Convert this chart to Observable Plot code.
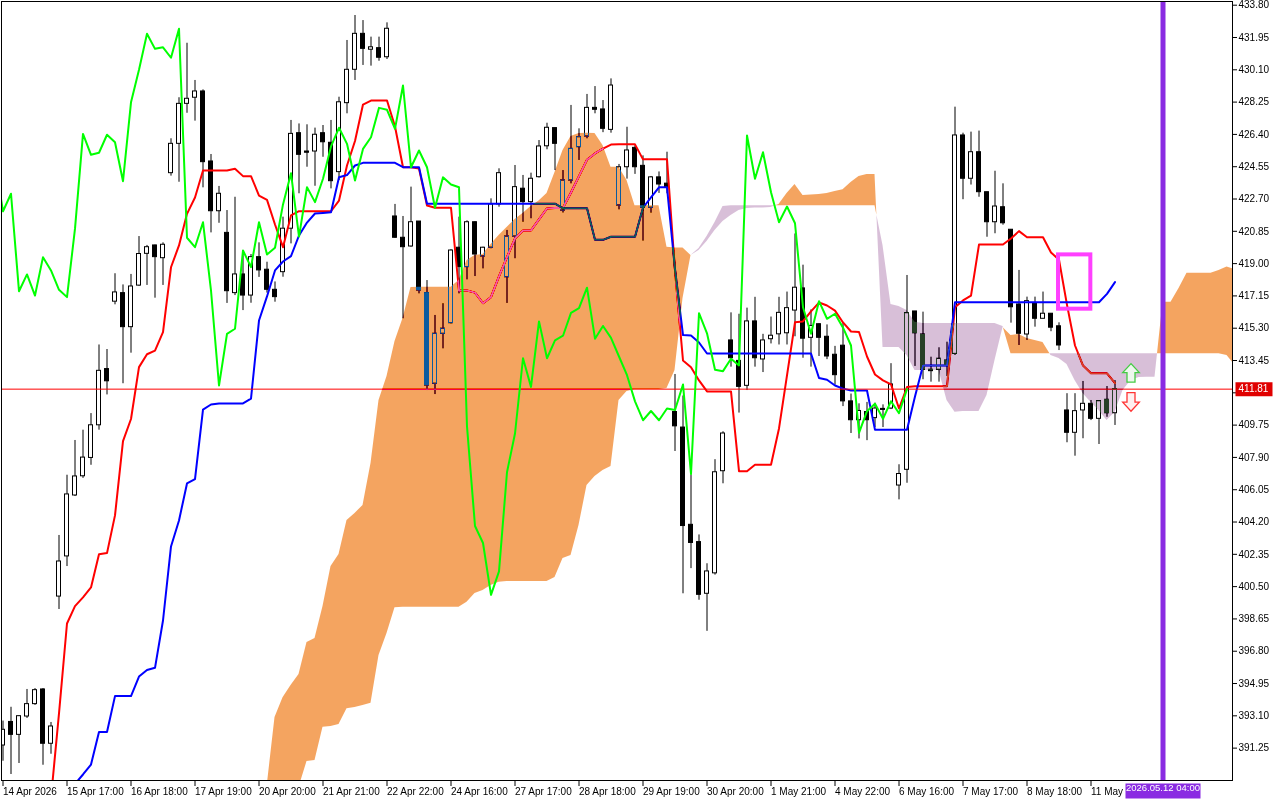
<!DOCTYPE html>
<html><head><meta charset="utf-8">
<script src="https://cdn.jsdelivr.net/npm/d3@7"></script>
<script src="https://cdn.jsdelivr.net/npm/@observablehq/plot@0.6"></script>
<style>html,body{margin:0;padding:0;background:#fff;}#chart{width:1280px;height:800px;}</style>
</head><body><div id="chart"></div>
<script>
// ---- Candles (bar index 0..139) ----
const opens = [
391.40,392.75,392.01,393.06,393.77,394.61,391.50,399.93,402.23,405.72,
406.82,407.87,409.74,412.96,416.82,417.31,415.36,417.74,419.56,420.04,
419.31,424.18,425.86,428.15,428.50,428.86,424.85,422.00,420.76,417.31,
418.38,417.17,419.37,418.65,417.50,418.51,421.00,426.47,425.42,425.42,
426.47,425.92,424.24,428.19,430.10,432.16,431.25,431.34,430.82,421.70,
420.48,419.98,421.41,417.31,412.12,414.98,415.59,419.91,418.80,421.37,
419.41,419.91,422.39,418.22,420.55,423.29,422.52,423.95,425.72,426.76,
422.04,423.76,425.67,426.28,427.92,427.83,426.66,422.33,424.52,425.63,
424.60,422.20,423.94,423.58,410.50,409.61,404.04,403.05,400.09,401.26,
407.11,414.60,413.43,412.00,415.69,413.51,414.67,414.95,415.01,416.31,
417.58,414.75,415.53,414.81,413.78,414.30,411.11,410.03,410.50,410.15,
410.64,410.70,406.29,407.19,416.26,414.94,412.92,412.92,413.45,413.83,
426.34,423.86,425.38,423.09,421.37,422.23,420.94,416.66,414.94,416.74,
415.84,416.13,415.41,410.59,409.31,410.59,410.97,410.11,411.20,410.43];
const highs = [
392.80,393.59,393.10,394.61,394.66,394.66,392.72,403.43,406.88,408.87,
409.46,410.41,414.34,414.08,418.42,417.78,418.38,420.55,420.04,420.06,
420.19,426.15,428.50,431.62,429.49,428.95,425.25,423.42,422.04,422.80,
419.46,419.52,420.19,419.08,417.95,421.66,427.20,427.00,426.95,426.76,
426.91,427.20,428.53,431.78,433.21,432.92,431.97,431.97,432.79,422.39,
421.70,423.38,421.41,418.03,416.03,416.70,419.80,421.66,421.45,421.40,
419.94,422.71,424.43,420.90,424.62,424.05,424.18,426.05,427.04,426.76,
424.33,428.06,426.72,428.69,429.14,428.34,429.58,424.68,426.81,425.75,
425.17,423.99,424.25,425.38,412.65,411.42,406.90,403.46,401.81,407.77,
409.37,416.18,416.10,416.45,417.07,414.95,415.94,417.07,417.37,420.70,
418.91,416.35,415.55,415.49,414.26,415.57,411.53,410.97,411.05,411.01,
410.91,413.27,407.48,418.32,416.26,416.22,413.64,414.18,414.50,427.96,
426.47,426.53,426.59,423.09,424.29,423.57,420.94,418.61,417.08,417.08,
417.37,416.13,415.61,411.55,411.55,412.25,411.16,411.12,411.96,412.30];
const lows = [
390.50,389.74,390.37,392.95,393.70,390.27,390.90,399.19,401.65,405.66,
406.70,407.45,409.46,411.48,416.64,412.12,413.87,417.70,417.75,417.02,
417.75,424.01,423.66,427.61,427.16,423.34,420.76,421.31,416.72,417.17,
416.31,416.73,418.21,417.31,416.79,418.22,420.13,423.00,424.52,423.43,
425.09,423.28,423.76,427.58,429.49,430.35,430.31,430.59,430.69,420.45,
415.84,419.94,417.27,411.73,411.50,414.12,415.55,417.27,418.07,418.26,
418.70,419.85,422.23,416.72,419.28,421.37,421.57,423.90,425.52,424.33,
421.90,423.57,424.91,426.15,427.58,426.50,426.47,422.08,423.84,424.11,
420.29,421.89,423.02,423.00,408.24,400.09,401.53,399.72,397.94,401.16,
406.39,413.07,410.44,411.73,413.07,412.76,414.40,414.34,414.34,414.81,
413.58,413.07,413.68,413.50,412.04,410.81,409.27,408.96,408.86,409.61,
409.61,410.64,405.47,406.42,413.11,412.35,412.21,412.21,412.53,413.74,
422.66,423.50,422.80,420.51,420.71,421.20,415.59,414.31,414.60,415.36,
415.84,415.10,414.02,408.74,407.97,408.97,410.01,408.64,410.20,409.73];
const closes = [
392.30,392.01,393.08,393.77,394.57,391.50,392.49,401.94,405.78,406.81,
407.89,409.74,412.86,412.26,417.35,415.36,417.69,419.55,419.94,419.37,
420.08,425.86,428.15,428.44,428.86,424.81,422.00,423.00,417.42,418.38,
417.17,419.37,418.61,417.50,417.08,421.00,426.43,425.23,425.35,426.38,
425.95,423.72,428.24,430.10,432.16,431.30,431.39,430.79,432.45,420.48,
419.94,421.37,417.46,412.02,414.98,415.27,419.75,418.80,421.37,419.52,
419.91,422.39,424.18,420.55,423.38,422.52,423.86,425.71,426.78,425.86,
423.76,425.57,426.24,427.92,427.81,426.72,429.20,424.52,425.48,424.52,
422.20,423.94,423.53,423.37,409.68,403.97,403.00,400.03,401.37,407.05,
409.27,413.58,411.94,415.69,413.58,414.60,414.87,416.18,416.45,417.62,
414.70,415.43,414.75,413.68,412.61,411.11,410.03,410.56,410.03,410.70,
410.62,412.08,406.95,416.16,415.01,412.92,412.84,413.55,413.17,426.34,
423.86,425.38,423.09,421.37,422.27,421.31,416.50,414.98,416.85,415.84,
416.13,415.33,414.31,409.31,410.55,410.97,410.11,411.12,410.43,411.81];

// ---- Ichimoku lines ----
const tenkanStart = 6;
const tenkan = [
388.40,393.24,398.39,399.38,399.88,400.45,402.36,402.42,404.58,408.83,
410.10,413.07,413.81,414.02,415.08,418.79,420.04,421.85,422.79,424.33,
424.33,424.33,424.33,424.43,424.01,424.01,422.90,422.65,421.24,419.94,
421.76,422.00,422.00,422.00,422.00,422.00,422.61,424.62,426.02,428.11,
428.34,428.34,428.34,426.85,424.52,424.52,424.45,422.33,422.20,422.20,
422.20,417.46,417.46,417.34,416.73,417.08,418.27,419.37,420.44,420.90,
420.90,421.53,422.16,422.19,422.19,423.07,424.01,424.95,425.31,425.59,
425.82,425.83,425.83,425.83,424.97,424.97,424.97,424.97,418.61,413.45,
413.07,412.31,411.68,411.68,411.68,411.68,407.11,407.11,407.48,407.48,
407.48,409.56,412.60,415.64,415.69,416.26,416.77,416.60,416.31,415.63,
415.11,415.08,413.68,412.65,412.31,412.08,410.70,411.93,411.98,411.98,
411.98,411.98,411.98,416.50,416.89,417.17,420.09,420.09,420.09,420.09,
420.44,420.86,420.51,420.51,420.51,419.64,419.22,416.64,414.31,413.16,
412.72,412.72,412.72,412.15];
const kijunStart = 9;
const kijun = [
389.20,389.74,390.31,392.17,392.17,394.23,394.23,394.23,395.35,395.72,
395.85,398.56,402.80,404.29,406.41,406.66,410.64,410.93,410.99,410.99,
410.99,410.99,411.27,415.74,417.12,418.61,419.12,419.43,420.61,421.35,
421.87,421.90,421.94,423.95,424.07,424.62,424.77,424.77,424.77,424.77,
424.77,424.52,424.52,424.52,422.43,422.43,422.43,422.43,422.43,422.43,
422.43,422.43,422.43,422.43,422.43,422.43,422.43,422.43,422.43,422.43,
422.43,422.17,422.17,422.17,422.17,420.36,420.36,420.54,420.54,420.54,
420.54,422.20,422.79,423.37,423.37,418.68,414.91,414.88,414.48,413.85,
413.85,413.85,413.85,413.85,413.85,413.85,413.85,413.85,413.85,413.85,
413.85,413.85,413.85,412.45,412.35,412.02,411.84,411.73,411.73,411.73,
409.48,409.48,409.48,409.48,409.48,411.39,413.16,413.16,413.16,413.16,
416.79,416.79,416.79,416.79,416.79,416.79,416.79,416.79,416.79,416.79,
416.79,416.79,416.79,416.79,416.79,416.79,416.79,416.79,416.79,417.27,
417.94];
const chikouShift = 26;
const spanStart = 33;
const spanA = [
389.00,393.00,394.14,394.83,395.47,397.30,397.53,399.36,401.65,402.34,
404.29,404.69,405.15,407.55,411.16,412.53,414.54,415.86,417.63,417.65,
417.65,417.65,417.65,417.65,418.03,419.18,419.47,419.52,420.09,420.61,
421.07,421.53,421.87,422.27,422.59,423.02,424.22,425.48,426.28,426.45,
426.47,426.45,425.76,424.52,424.52,423.76,422.31,422.31,422.31,422.31,
419.94,419.89,419.89,419.47,419.75,420.27,420.90,421.41,421.76,422.04,
422.16,422.19,422.19,422.21,422.39,423.02,423.53,422.90,422.93,422.96,
423.02,423.13,423.23,423.65,423.99,424.11,424.11,414.20,414.20,414.20,
413.74,412.88,412.88,412.88,412.88,411.16,410.49,410.53,410.53,410.53,
411.45,413.45,415.34,414.88,414.94,414.71,414.60,414.48,413.74,413.57,
413.22,412.30,411.56,411.04,410.59,410.01,410.47,411.73,412.30,412.48,
412.49,412.49,416.79,416.79,417.58,418.45,418.45,418.45,418.45,418.61,
418.80,418.66];
const spanB = [
385.00,386.00,387.00,388.00,389.00,390.48,390.54,392.45,392.49,392.60,
393.50,393.58,393.69,393.82,396.55,397.81,399.29,399.32,399.32,399.32,
399.32,399.32,399.32,399.32,399.32,399.61,400.11,400.28,400.57,400.75,
400.79,400.79,400.79,400.79,400.79,400.79,401.02,402.11,402.28,404.00,
406.29,406.81,407.15,407.38,411.16,411.68,411.79,411.79,411.79,411.79,
411.85,412.88,417.00,419.47,419.87,420.55,421.36,422.27,422.31,422.31,
422.31,422.31,422.31,422.31,422.31,422.31,422.31,422.31,422.31,422.31,
422.31,422.31,422.31,422.31,422.31,422.31,422.31,420.04,416.66,416.54,
416.31,415.64,415.57,415.57,415.57,415.57,415.57,415.57,415.57,415.57,
415.57,415.57,415.40,413.84,413.84,413.84,413.84,413.84,413.84,413.84,
413.84,413.84,413.84,413.84,413.84,413.84,413.84,413.84,413.84,413.84,
413.84,413.84,413.84,413.84,413.84,413.84,413.84,413.84,413.84,413.84,
413.74,413.17];

// ---- Annotations ----
const lastPrice = 411.81;
const cursorBar = 145;
const cursorLabel = "2026.05.12 04:00";
const focusBox = [{x1: 131.94, x2: 135.98, y1: 416.39, y2: 419.50}];
const signalBar = 141;
const signalUp = 412.73;
const signalDown = 411.09;

// ---- Axes ----
const yTicks = [391.25,393.10,394.95,396.80,398.65,400.50,402.35,404.20,406.05,407.90,409.75,411.60,413.45,415.30,417.15,419.00,420.85,422.70,424.55,426.40,428.25,430.10,431.95,433.80];
const xTickBars = [0,8,16,24,32,40,48,56,64,72,80,88,96,104,112,120,128,136];
const xTickLabels = ["14 Apr 2026","15 Apr 17:00","16 Apr 18:00","17 Apr 19:00","20 Apr 20:00","21 Apr 21:00","22 Apr 22:00","24 Apr 16:00","27 Apr 17:00","28 Apr 18:00","29 Apr 19:00","30 Apr 20:00","1 May 21:00","4 May 22:00","6 May 16:00","7 May 17:00","8 May 18:00","11 May"];

// ---- build tables ----
const candles = opens.map((o, i) => ({i, o, h: highs[i], l: lows[i], c: closes[i]}));
const bull = candles.filter(d => d.c >= d.o);
const bear = candles.filter(d => d.c < d.o);
const tenkanData = tenkan.map((v, k) => ({i: k + tenkanStart, v}));
const kijunData = kijun.map((v, k) => ({i: k + kijunStart, v}));
const chikouData = closes.map((v, k) => ({i: k - chikouShift, v})).filter(d => d.i >= -1);
const labelMap = new Map(xTickBars.map((b, k) => [b, xTickLabels[k]]));

function cloud(sign) {
  const out = []; let cur = null; let seg = 0;
  for (let k = 0; k < spanA.length; k++) {
    const i = k + spanStart, a = spanA[k], b = spanB[k];
    const d = (a - b) * sign;
    if (k > 0) {
      const pa = spanA[k-1], pb = spanB[k-1], pd = (pa - pb) * sign;
      if ((pd > 0) !== (d > 0)) {
        const t = pd / (pd - d);
        const pt = {i: i - 1 + t, lo: pa + (a - pa) * t, hi: pa + (a - pa) * t};
        if (cur) { pt.seg = seg; cur.push(pt); out.push(...cur); cur = null; seg++; }
        else { pt.seg = seg; cur = [pt]; }
      }
    }
    if (d > 0) {
      if (!cur) cur = [];
      cur.push({i, lo: sign > 0 ? b : a, hi: sign > 0 ? a : b, seg});
    }
  }
  if (cur) out.push(...cur);
  return out;
}
const bullCloud = cloud(1);
const bearCloud = cloud(-1);

const shape = pts => ({draw(ctx) { ctx.moveTo(pts[0][0], pts[0][1]); for (const p of pts.slice(1)) ctx.lineTo(p[0], p[1]); ctx.closePath(); }});
const arrowUp = shape([[0,-9.5],[8.3,-0.5],[4,-0.5],[4,9],[-4,9],[-4,-0.5],[-8.3,-0.5]]);
const arrowDown = shape([[0,9.5],[8.3,0.5],[4,0.5],[4,-9],[-4,-9],[-4,0.5],[-8.3,0.5]]);
const priceBox = shape([[3,-7],[40,-7],[40,7],[3,7]]);
const dateBox = shape([[-37.5,3],[37.5,3],[37.5,18],[-37.5,18]]);

const plot = Plot.plot({
  width: 1280, height: 800,
  marginLeft: 1, marginTop: 1, marginRight: 48, marginBottom: 20,
  x: {domain: [-0.1875, 153.6875], label: null},
  y: {domain: [389.396, 434.012], label: null},
  style: {fontFamily: "'Liberation Sans', Arial, sans-serif", fontSize: "10px", color: "black", background: "white", overflow: "visible"},
  marks: [
    Plot.frame({fill: "white"}),
    Plot.ruleX(candles, {x: "i", y1: "l", y2: "h", stroke: "black", strokeWidth: 1, clip: true}),
    Plot.rect(bull, {x1: d => d.i - 0.25, x2: d => d.i + 0.25, y1: d => d.o, y2: d => Math.max(d.c, d.o + 0.06), fill: "white", stroke: "black", strokeWidth: 1, inset: 0, clip: true}),
    Plot.rect(bear, {x1: d => d.i - 0.25, x2: d => d.i + 0.25, y1: d => d.c, y2: d => Math.max(d.o, d.c + 0.06), fill: "black", stroke: "black", strokeWidth: 1, inset: 0, clip: true}),
    Plot.line(tenkanData, {x: "i", y: "v", stroke: "#ff0000", strokeWidth: 2, clip: true}),
    Plot.line(kijunData, {x: "i", y: "v", stroke: "#0000ff", strokeWidth: 2, clip: true}),
    Plot.ruleY([lastPrice], {stroke: "#ff0000", strokeWidth: 1}),
    Plot.areaY(bullCloud, {x: "i", y1: "lo", y2: "hi", z: "seg", fill: "#0b5b9f", clip: true, mixBlendMode: "difference"}),
    Plot.areaY(bearCloud, {x: "i", y1: "lo", y2: "hi", z: "seg", fill: "#274027", clip: true, mixBlendMode: "difference"}),
    Plot.line(chikouData, {x: "i", y: "v", stroke: "#00ff00", strokeWidth: 2, clip: true}),
    Plot.ruleX([cursorBar], {x: d => d, stroke: "#8a2be2", strokeWidth: 5}),
    Plot.rect(focusBox, {x1: "x1", x2: "x2", y1: "y1", y2: "y2", fill: "none", stroke: "#ff40ff", strokeWidth: 4, inset: 0}),
    Plot.dot([signalUp], {x: () => signalBar, y: d => d, symbol: arrowUp, fill: "#eef7ee", stroke: "#44cc44", strokeWidth: 1.3}),
    Plot.dot([signalDown], {x: () => signalBar, y: d => d, symbol: arrowDown, fill: "#fff0f0", stroke: "#ff3333", strokeWidth: 1.3}),
    Plot.frame({stroke: "black", strokeWidth: 1}),
    Plot.axisY(yTicks, {anchor: "right", tickSize: 4, tickPadding: 2, tickFormat: d => Math.abs(d - lastPrice) < 0.5 ? "" : d.toFixed(2), label: null}),
    Plot.axisX(xTickBars, {anchor: "bottom", tickSize: 6, tickPadding: 1, tickFormat: d => labelMap.get(d), textAnchor: "start", dx: 0, label: null}),
    Plot.dot([lastPrice], {y: d => d, frameAnchor: "right", symbol: priceBox, fill: "#e00000", stroke: "none"}),
    Plot.text([lastPrice], {y: d => d, frameAnchor: "right", text: d => d.toFixed(2), textAnchor: "start", dx: 6, fill: "white"}),
    Plot.dot([cursorBar], {x: d => d, frameAnchor: "bottom", symbol: dateBox, fill: "#8a2be2", stroke: "none"}),
    Plot.text([cursorBar], {x: d => d, frameAnchor: "bottom", text: () => cursorLabel, dy: 10.5, fontSize: 9.5, fill: "white"})
  ]
});
plot.querySelectorAll('g[aria-label="area"]').forEach(g => g.style.mixBlendMode = "difference");
document.getElementById("chart").appendChild(plot);
</script></body></html>
